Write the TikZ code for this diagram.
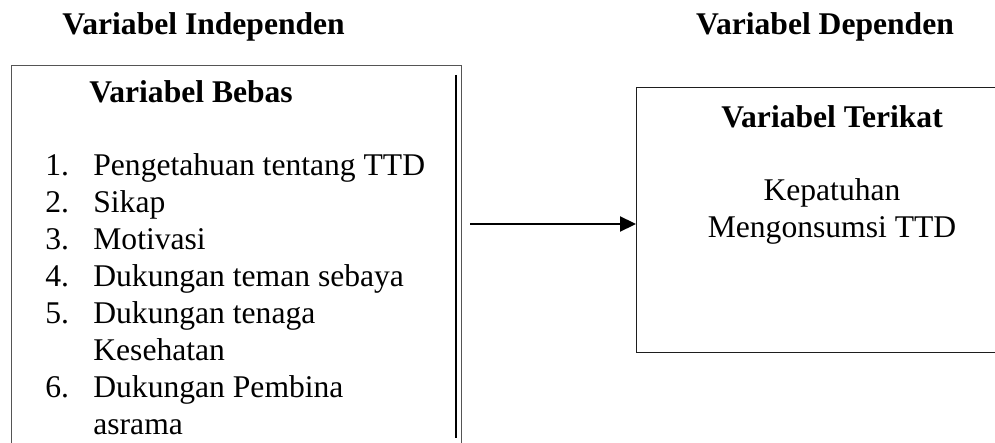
\documentclass[tikz,border=0pt]{standalone}
\usepackage{fontspec}
\setmainfont{Liberation Serif}
\usetikzlibrary{arrows.meta,positioning}
\definecolor{framegray}{RGB}{85,85,85}
\definecolor{framedark}{RGB}{30,30,30}
\definecolor{inkdark}{RGB}{0,0,0}
\tikzset{
  varhead/.style={inner sep=0pt,font=\fontsize{15.8}{18.5}\selectfont\bfseries},
  vartext/.style={inner sep=0pt,font=\fontsize{15.8}{18.5}\selectfont,align=center},
  varframe/.style={rectangle,draw=#1,line width=0.7pt,inner sep=0pt,
    anchor=north west},
  varrule/.style={draw=inkdark,line width=1pt},
  vararrow/.style={-{Triangle[length=8pt,width=7.5pt]},line width=1.1pt,color=inkdark},
}

\begin{document}
\begin{tikzpicture}[x=0.5pt,y=-0.5pt]
\useasboundingbox (0,0) rectangle (995,443);
\clip (0,0) rectangle (995,443);

%% -- headings ---------------------------------------------------------------
\node[varhead,anchor=base west] (indep) at (62,35) {Variabel Independen};
\node[varhead,anchor=base] (dep) at (825,35) {Variabel Dependen};

%% -- variabel bebas ---------------------------------------------------------
\node[varframe=framegray,minimum width=225pt,minimum height=200pt]
  (bebas) at (11,65) {};
\draw[varrule] (456,75) -- (456,438);
\node[varhead,anchor=base west] (bebash) at (89,103) {Variabel Bebas};
\node[vartext,anchor=base west] (bebasl) at (45,176) {%
  \begin{tabular}[t]{@{}p{24pt}@{}l@{}}
  1. & Pengetahuan tentang TTD\\
  2. & Sikap\\
  3. & Motivasi\\
  4. & Dukungan teman sebaya\\
  5. & Dukungan tenaga\\
     & Kesehatan\\
  6. & Dukungan Pembina\\
     & asrama
  \end{tabular}};

%% -- variabel terikat -------------------------------------------------------
\node[varframe=framedark,minimum width=190pt,minimum height=132.5pt]
  (terikat) at (636,87) {};
\node[varhead,anchor=base] (terikath) at (832,128) {Variabel Terikat};
\node[vartext,anchor=base] (terikatt) at (832,238)
  {Kepatuhan\\Mengonsumsi TTD};

%% -- relationship -----------------------------------------------------------
\coordinate (from) at (470,224);
\draw[vararrow] (from) -- (from -| terikat.west);

\end{tikzpicture}
\end{document}
